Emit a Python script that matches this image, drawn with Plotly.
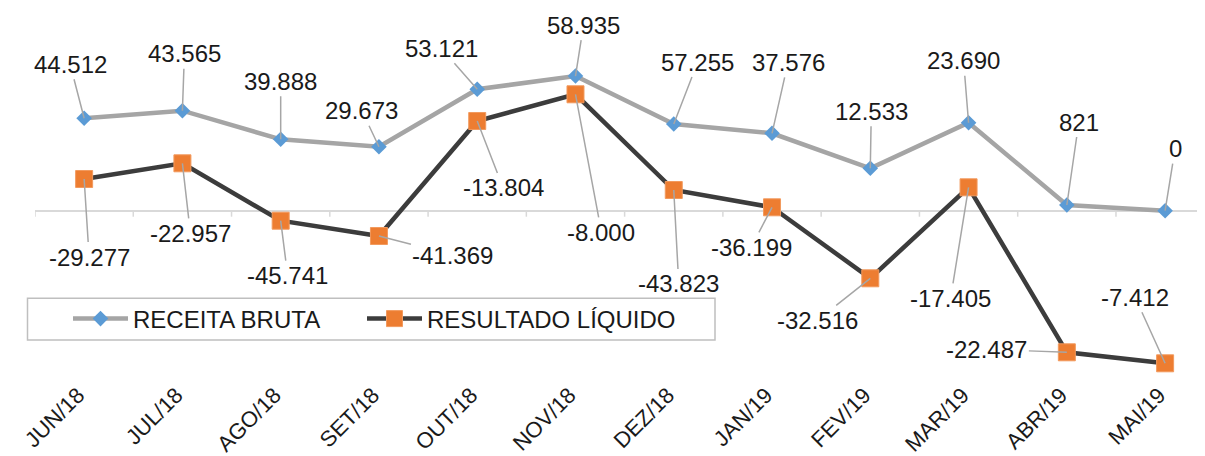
import plotly.graph_objects as go

# ---- data ----
months = ["JUN/18", "JUL/18", "AGO/18", "SET/18", "OUT/18", "NOV/18",
          "DEZ/18", "JAN/19", "FEV/19", "MAR/19", "ABR/19", "MAI/19"]

# plotted values
receita_bruta = [40.43, 43.75, 31.24, 28.00, 53.12, 58.93,
                 37.93, 33.86, 18.55, 38.50, 2.49, 0.0]
resultado_liquido = [13.87, 20.74, -4.38, -11.07, 39.25, 50.93,
                     9.06, 1.49, -29.58, 10.24, -61.95, -66.77]

# data-label texts as printed on the chart
receita_labels = ["44.512", "43.565", "39.888", "29.673", "53.121", "58.935",
                  "57.255", "37.576", "12.533", "23.690", "821", "0"]
resultado_labels = ["-29.277", "-22.957", "-45.741", "-41.369", "-13.804", "-8.000",
                    "-43.823", "-36.199", "-32.516", "-17.405", "-22.487", "-7.412"]

# label offsets (pixels, text centre relative to the point)
receita_off = [(-14, -54), (2, -57), (0, -58), (-17, -36), (-36, -41), (8, -51),
               (24, -62), (16, -71), (1, -57), (-5, -62), (12, -83), (10, -62)]
resultado_off = [(5, 78), (8, 70), (7, 55), (74, 19), (26, 67), (26, 138),
                 (5, 94), (-21, 40), (-53, 42), (-18, 111), (-80, -3), (-30, -66)]

FONT = "Liberation Sans, Arial, sans-serif"
TXT = "#1a1a1a"

# The page body adds an 8px margin, so the figure is made 8px smaller
# and everything is laid out in figure coordinates (page px - 8).
W, H = 1197, 448
L, T, B = 27, 2, 76
PW, PH = W - L, H - T - B   # 1170 x 370


def px_x(page_x):
    return (page_x - 8 - L) / PW


def px_y(page_y):
    return (H - B - (page_y - 8)) / PH


fig = go.Figure()
fig.add_trace(go.Scatter(
    x=months, y=receita_bruta, name="RECEITA BRUTA", mode="lines+markers",
    line=dict(color="#a5a5a5", width=4.5),
    marker=dict(symbol="diamond", size=12, color="#5b9bd5", line=dict(width=0)),
    legend="legend",
))
fig.add_trace(go.Scatter(
    x=months, y=resultado_liquido, name="RESULTADO LÍQUIDO", mode="lines+markers",
    line=dict(color="#3c3c3c", width=4.5),
    marker=dict(symbol="square", size=17, color="#ed7d31", line=dict(width=1, color="#f29a5e")),
    legend="legend2",
))

annotations = []
for xs, ys, labs, offs in [(months, receita_bruta, receita_labels, receita_off),
                           (months, resultado_liquido, resultado_labels, resultado_off)]:
    for xv, yv, t, (dx, dy) in zip(xs, ys, labs, offs):
        annotations.append(dict(
            x=xv, y=yv, text=t, showarrow=True, ax=dx, ay=dy,
            arrowhead=0, arrowwidth=1.5, arrowcolor="#a6a6a6", standoff=0,
            font=dict(family=FONT, size=24, color=TXT),
        ))

shapes = []
# category boundary tick marks on the zero axis line
for i in range(len(months)):
    shapes.append(dict(type="line", xref="x", yref="y", x0=i - 0.5, x1=i - 0.5,
                       ysizemode="pixel", yanchor=0, y0=0, y1=-6,
                       line=dict(color="#d9d9d9", width=1.5)))
# legend frame
shapes.append(dict(type="rect", xref="paper", yref="paper",
                   x0=px_x(27.5), x1=px_x(715),
                   y0=px_y(340), y1=px_y(298.3),
                   line=dict(color="#bfbfbf", width=1.5), fillcolor="rgba(0,0,0,0)"))

leg_common = dict(orientation="h", xanchor="left", yanchor="middle",
                  bgcolor="rgba(0,0,0,0)", borderwidth=0,
                  font=dict(family=FONT, size=24, color=TXT), itemwidth=55)

fig.update_layout(
    width=W, height=H,
    margin=dict(l=L, r=0, t=T, b=B),
    paper_bgcolor="white", plot_bgcolor="white",
    font=dict(family=FONT, color=TXT),
    showlegend=True,
    legend=dict(x=px_x(68), y=px_y(319), **leg_common),
    legend2=dict(x=px_x(362), y=px_y(319), **leg_common),
    xaxis=dict(type="category", range=[-0.5, -0.5 + PW / 98.27],
               showline=False, showgrid=False, ticks="", tickangle=-45,
               ticklabelshift=-6, ticklabelstandoff=-3,
               tickfont=dict(family=FONT, size=22, color=TXT), zeroline=False),
    yaxis=dict(range=[-74.07, 87.81], showgrid=False, showticklabels=False,
               showline=False, ticks="", zeroline=True,
               zerolinecolor="#d9d9d9", zerolinewidth=1.5),
    annotations=annotations,
    shapes=shapes,
)

fig.write_html("out.html")
